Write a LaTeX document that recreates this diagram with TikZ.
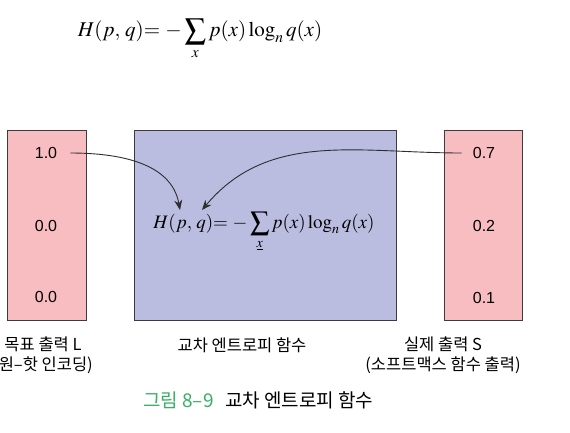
\documentclass[tikz,border=0pt]{standalone}
\usepackage{mathptmx}
\usepackage{fontspec}
\newfontfamily\kr{Noto Sans CJK KR}
\newfontfamily\numf{Liberation Sans}
\usetikzlibrary{arrows.meta}
\definecolor{pinkfill}{RGB}{248,189,193}
\definecolor{bluefill}{RGB}{186,189,224}
\definecolor{edgegray}{RGB}{60,60,60}
\definecolor{arrgray}{RGB}{45,45,50}
\definecolor{capgreen}{RGB}{55,175,100}
\tikzset{
  vecbox/.style={draw=edgegray, line width=0.6pt, fill=pinkfill},
  funcbox/.style={draw=edgegray, line width=0.6pt, fill=bluefill},
  val/.style={font=\numf\fontsize{16}{16}\selectfont, inner sep=1pt},
  lab/.style={font=\kr\fontsize{16.5}{20}\selectfont, align=center, inner sep=0pt},
  flow/.style={draw=arrgray, line width=0.9pt, -{Stealth[length=10pt,width=8pt]}},
}
\begin{document}
\begin{tikzpicture}[x=1pt,y=-1pt]
\useasboundingbox (0,0) rectangle (570,432);
\fill[white] (0,0) rectangle (570,432);
% top formula
\node[font=\fontsize{21}{24}\selectfont] (topf) at (200,39) {$\displaystyle H(p,\,q){=}\,-\sum_{x} p(x)\log_{n} q(x)$};
% boxes
\draw[vecbox] (7,130) rectangle (86,320);
\draw[funcbox] (134,130) rectangle (396,320);
\draw[vecbox] (444,130) rectangle (522,320);
% values
\node[val] (l1) at (46,153) {1.0};
\node[val] (l2) at (46,226) {0.0};
\node[val] (l3) at (46,297) {0.0};
\node[val] (r1) at (484,153) {0.7};
\node[val] (r2) at (484,226) {0.2};
\node[val] (r3) at (484,298) {0.1};
% inner formula
\node[font=\fontsize{19}{22}\selectfont, inner sep=0pt] (inf) at (264,232) {$\displaystyle H(p,\,q){=}\,-\sum_{\underline{x}} p(x)\log_{n} q(x)$};
\coordinate (tp) at (180,210);
\coordinate (tq) at (202,210);
\draw[flow] (l1.east) ++(12,0) coordinate (s1) (s1) to[out=0,in=100] (tp);
\draw[flow] (r1.west) ++(-10,0) coordinate (s2) (s2) to[out=180,in=50] (tq);
% labels
\node[lab] (ll) at (43,355) {목표 출력 L\\(원–핫 인코딩)};
\node[lab] (ml) at (242,345) {교차 엔트로피 함수};
\node[lab] (rl) at (443,355) {실제 출력 S\\(소프트맥스 함수 출력)};
\node[lab, font=\kr\fontsize{19}{22}\selectfont, anchor=west] (cap) at (143,400) {\textcolor{capgreen}{그림 8–9}\hspace{0.6em}교차 엔트로피 함수};
\end{tikzpicture}
\end{document}
